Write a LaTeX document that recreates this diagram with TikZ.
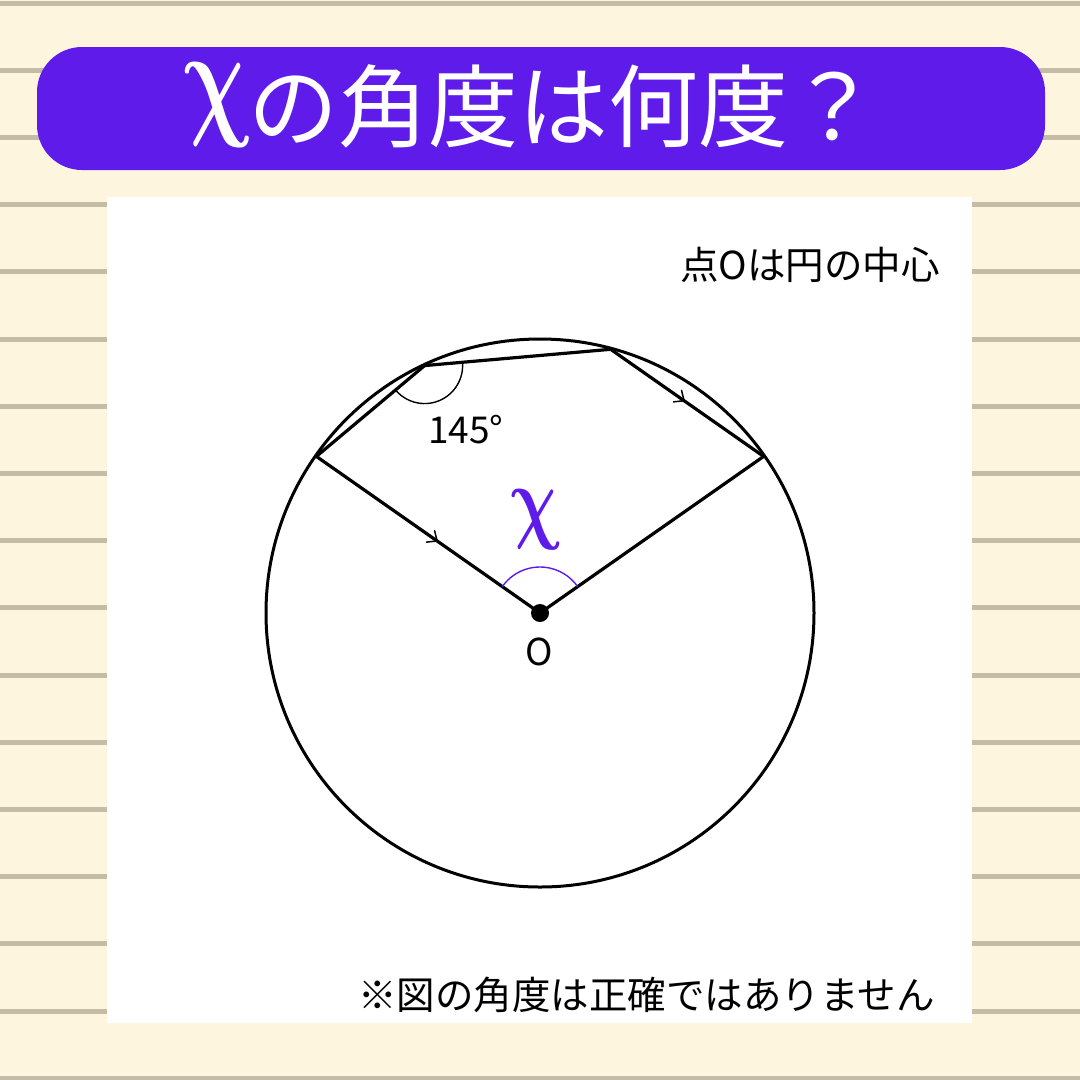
\documentclass[tikz,border=0pt]{standalone}
\usepackage{fontspec}
\newfontfamily\jp{Noto Sans CJK JP}
\usetikzlibrary{decorations.markings,calc}
\definecolor{bgcream}{HTML}{FEF5DF}
\definecolor{linegray}{HTML}{C5BCA8}
\definecolor{vio}{HTML}{5E1BE9}
\tikzset{
  chord/.style={line width=3.2pt, line join=round, line cap=round},
  thinarc/.style={line width=1.4pt},
  chev/.style={postaction={decorate,decoration={markings,
    mark=at position #1 with {\draw[line width=1.5pt,line cap=round,line join=round] (-8,-7) -- (0,0) -- (-8,7);}}}},
  lbl/.style={font=\jp\fontsize{37}{40}\selectfont, inner sep=0pt},
  note/.style={font=\jp\fontsize{38.5}{42}\selectfont, inner sep=0pt, anchor=east},
  chisym/.style={inner sep=0pt, xslant=-0.13, transform shape},
}
\begin{document}
\begin{tikzpicture}[x=1pt,y=-1pt]
\useasboundingbox (0,0) rectangle (1080,1080);
\fill[bgcream] (0,0) rectangle (1080,1080);
\foreach \i in {0,...,16} {
  \fill[linegray] (0,{3+67.2*\i-2.5}) rectangle (1080,{3+67.2*\i+2.5});
}
% banner
\fill[vio, rounded corners=45pt] (37,47) rectangle (1045,170);
\node[chisym, text=white] (tchi) at (217,105)
  {\resizebox*{64pt}{84pt}{\boldmath$\chi$}};
\node[inner sep=0pt, text=white, anchor=west, font=\jp\fontsize{90}{92}\selectfont] (title) at (248,106)
  {の角度は何度？};
% panel
\fill[white] (107,197) rectangle (972,1023);
% geometry
\coordinate (O) at (540,613);
\coordinate (A) at ($(O)+(-145:273)$);
\coordinate (B) at ($(O)+(-115:273)$);
\coordinate (C) at ($(O)+(-75:273)$);
\coordinate (D) at ($(O)+(-35:273)$);
\draw[line width=3pt] (O) circle (274);
\draw[chord] (A) -- (B) -- (C);
\draw[chord, chev=0.48] (C) -- (D);
\draw[chord, chev=0.54] (A) -- (O);
\draw[chord] (O) -- (D);
% angle at B
\draw[thinarc] ($(B)+(-5:38)$) arc[start angle=-5, end angle=139.5, radius=38];
% angle at O
\draw[thinarc, vio] ($(O)+(-145:46)$) arc[start angle=-145, end angle=-35, radius=46];
\fill (O) circle (9);
% labels
\node[lbl] (l145) at (466,430) {145°};
\node[lbl] (lO) at (539,652) {O};
\node[chisym, text=vio] (lx) at (536,520) {\resizebox*{48pt}{60pt}{\boldmath$\chi$}};
\node[note] (note1) at (940,265) {点Oは円の中心};
\node[note] (note2) at (935,995) {※図の角度は正確ではありません};
\end{tikzpicture}
\end{document}
